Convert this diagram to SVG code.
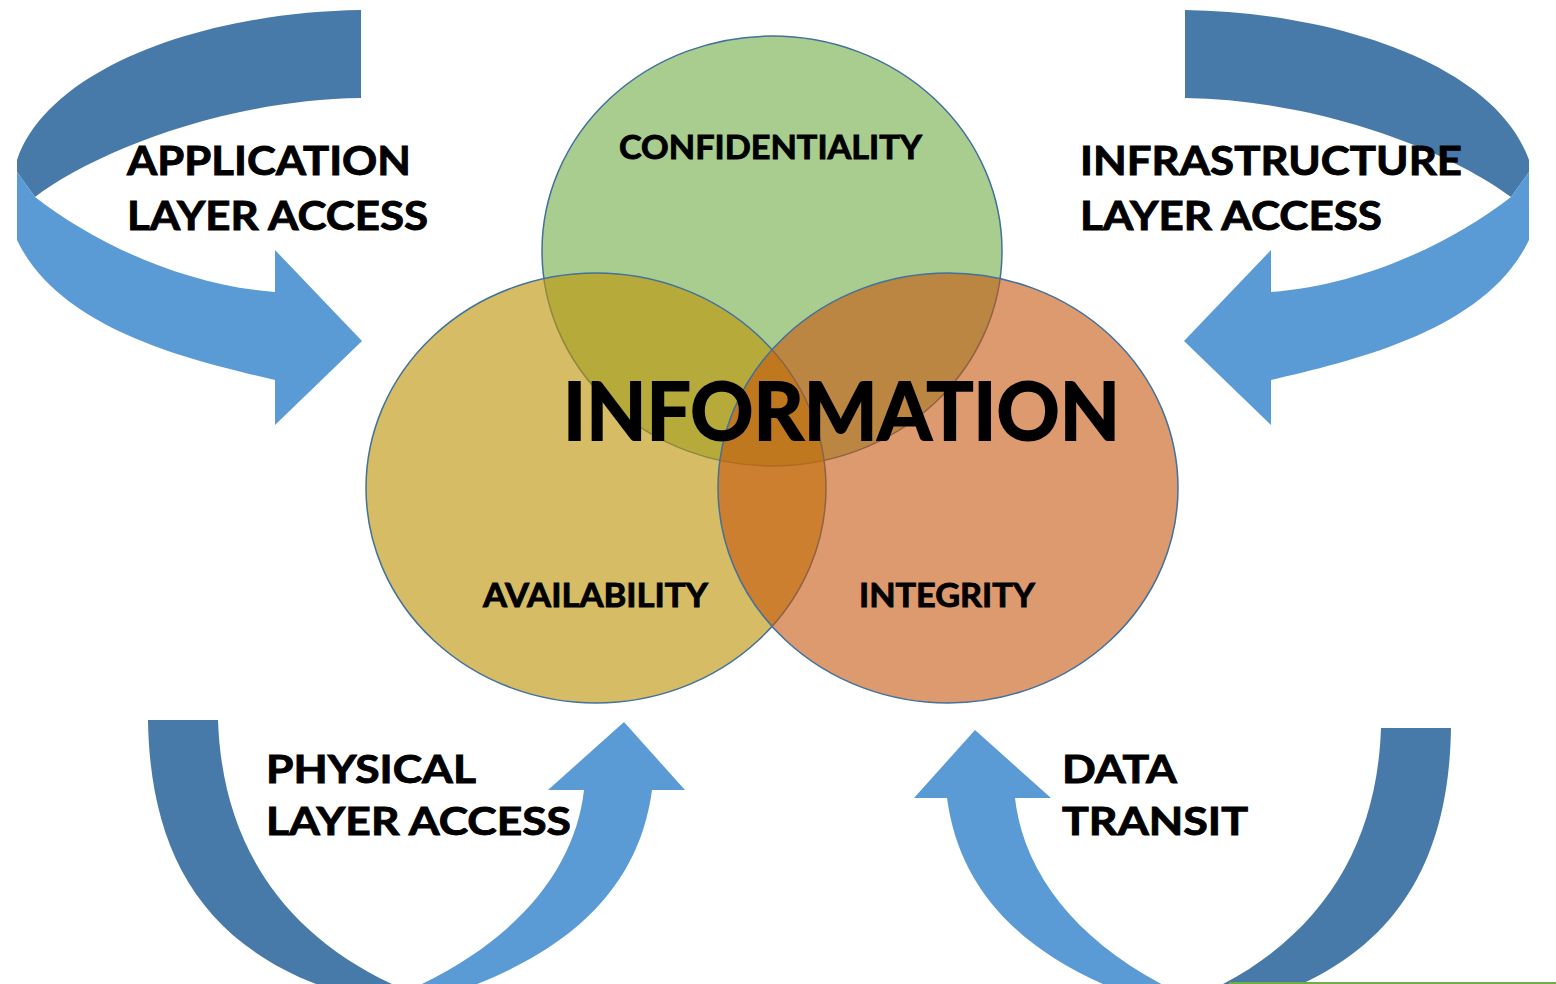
<svg xmlns="http://www.w3.org/2000/svg" width="1556" height="984" viewBox="0 0 1556 984">
<style>
.dk{fill:#477aa9}
.lt{fill:#5b9bd5}
.circ{stroke:#41719c;stroke-width:1.5}
.t{font-family:Lato,"Open Sans","Liberation Sans",sans-serif;font-weight:700;fill:#000;stroke:#000;stroke-width:0.9}
.big{stroke-width:1.8}
</style>
<defs>
<g id="arrowTop">
<path class="dk" d="M361,10 C210,12 50,65 17,160 L17,172 L35,197 C90,155 220,100 361,98 Z"/>
<path class="lt" d="M17,172 L35,197 C90,240 180,285 275,292 L275,250 L362,341 L275,425 L275,380 C190,360 60,330 17,240 Z"/>
</g>
<g id="arrowBot">
<path class="dk" d="M148,720 L218,720 C222,840 280,940 415,994 L345,994 C200,950 150,850 148,720 Z"/>
<path class="lt" d="M400,994 C515,945 575,870 584,790 L548,790 L624,722 L685,790 L652,790 C640,880 580,950 450,994 Z"/>
</g>
</defs>
<rect width="1556" height="984" fill="#fff"/>
<g id="connectors">
<use id="arrow-application" href="#arrowTop"/>
<use id="arrow-infrastructure" href="#arrowTop" transform="translate(1546,0) scale(-1,1)"/>
<use id="arrow-physical" href="#arrowBot"/>
<use id="arrow-data" href="#arrowBot" transform="translate(1599,8) scale(-1,1)"/>
</g>
<g id="confidentiality">
<ellipse class="circ" cx="772" cy="251" rx="230" ry="215" fill="#a9cd8f"/>
</g>
<g id="availability">
<ellipse class="circ" cx="596" cy="488" rx="230" ry="215" fill="rgb(190,149,9)" fill-opacity="0.63"/>
</g>
<g id="integrity">
<ellipse class="circ" cx="948" cy="488" rx="230" ry="215" fill="rgb(198,87,13)" fill-opacity="0.6"/>
</g>
<g id="labels">
<text class="t" x="619" y="159" font-size="32" textLength="303" lengthAdjust="spacingAndGlyphs">CONFIDENTIALITY</text>
<text class="t" x="483" y="607" font-size="33" textLength="225" lengthAdjust="spacingAndGlyphs">AVAILABILITY</text>
<text class="t" x="859" y="607" font-size="33" textLength="176" lengthAdjust="spacingAndGlyphs">INTEGRITY</text>
<text class="t big" x="563" y="440" font-size="80" textLength="557" lengthAdjust="spacingAndGlyphs">INFORMATION</text>
</g>
<g id="label-application">
<text class="t" x="127" y="175" font-size="40" textLength="284" lengthAdjust="spacingAndGlyphs">APPLICATION</text>
<text class="t" x="127" y="230" font-size="40" textLength="301" lengthAdjust="spacingAndGlyphs">LAYER ACCESS</text>
</g>
<g id="label-infrastructure">
<text class="t" x="1080" y="175" font-size="40" textLength="382" lengthAdjust="spacingAndGlyphs">INFRASTRUCTURE</text>
<text class="t" x="1080" y="230" font-size="40" textLength="302" lengthAdjust="spacingAndGlyphs">LAYER ACCESS</text>
</g>
<g id="label-physical">
<text class="t" x="266" y="783" font-size="39" textLength="210" lengthAdjust="spacingAndGlyphs">PHYSICAL</text>
<text class="t" x="266" y="835" font-size="39" textLength="305" lengthAdjust="spacingAndGlyphs">LAYER ACCESS</text>
</g>
<g id="label-data">
<text class="t" x="1062" y="783" font-size="39" textLength="115" lengthAdjust="spacingAndGlyphs">DATA</text>
<text class="t" x="1062" y="835" font-size="39" textLength="186" lengthAdjust="spacingAndGlyphs">TRANSIT</text>
</g>
<rect x="1229" y="982" width="327" height="2" fill="#70ad47"/>
</svg>
